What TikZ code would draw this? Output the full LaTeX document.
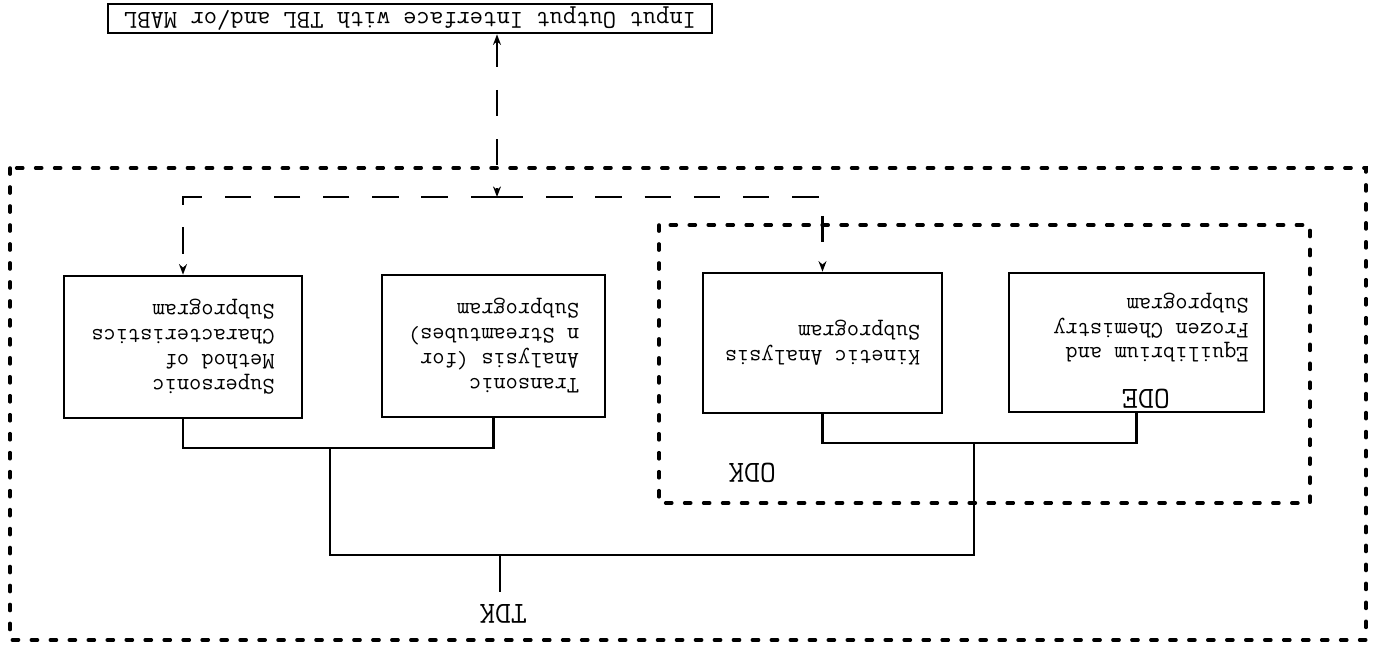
\documentclass[tikz,border=0pt]{standalone}
\usepackage{graphicx}
\usepackage{tikz}
\usetikzlibrary{arrows.meta}
\newcommand{\flipped}[1]{\rotatebox[origin=c]{180}{\begin{tabular}{@{}l@{}}#1\end{tabular}}}

\begin{document}
\begin{tikzpicture}[
    x=0.02cm, y=-0.02cm,
    >={Stealth[length=6pt,width=4.5pt]},
    subprog/.style={rectangle, draw, line width=1.5pt, inner sep=0pt, font=\ttfamily\fontsize{13.5}{14.2}\selectfont},
    iobox/.style={rectangle, draw, line width=1.5pt, minimum width=12.08cm, minimum height=0.58cm, inner sep=0pt, font=\ttfamily\fontsize{14.7}{16}\selectfont},
    tag/.style={inner sep=1pt, font=\ttfamily\fontsize{17.5}{20}\selectfont},
    wire/.style={line width=1.3pt},
    iolink/.style={line width=1.2pt, dash pattern=on 15pt off 13pt},
    dotbox/.style={line width=2pt, line cap=round, dash pattern=on 3.5pt off 7.3pt}
]
\useasboundingbox (0,0) rectangle (1377,648);

% Interface box at the top
\node[iobox] (io) at (410,18.5) {\flipped{Input Output Interface with TBL and/or MABL}};

% Subprogram boxes
\node[subprog, minimum width=4.76cm, minimum height=2.84cm] (super) at (183,347) {\flipped{Supersonic\\Method of\\Characteristics\\Subprogram}};
\node[subprog, minimum width=4.46cm, minimum height=2.84cm] (trans) at (493.5,346) {\flipped{Transonic\\Analysis (for\\n Streamtubes)\\Subprogram}};
\node[subprog, minimum width=4.78cm, minimum height=2.8cm] (kin) at (822.5,343) {\flipped{Kinetic Analysis\\Subprogram}};
\node[subprog, minimum width=5.1cm, minimum height=2.78cm] (equi) at (1136.5,342.5) {};
\node[subprog, draw=none] (equitxt) at (1151,328) {\flipped{Equilibrium and\\Frozen Chemistry\\Subprogram}};
\node[tag] (ode) at (1146,397) {\flipped{ODE}};

% Dotted frames
\draw[dotbox] (10,168) rectangle (1366,640);
\draw[dotbox] (659,225) rectangle (1310,503);
\node[tag] (odk) at (752,471) {\flipped{ODK}};
\node[tag] (tdk) at (503,612) {\flipped{TDK}};

% Junctions
\coordinate (iojoin) at (497,197);
\coordinate (lbar) at (330,448);
\coordinate (rbar) at (974,443);
\coordinate (tbar) at (500,555);

% Dashed links to the interface
\draw[iolink, <->] (iojoin |- io.south) -- (iojoin);
\draw[iolink, ->] (iojoin) -| (super.north);
\draw[iolink, ->] (iojoin) -| (kin.north);

% Solid connectors
\draw[wire] (super.south) |- (lbar) -| (trans.south);
\draw[wire] (kin.south) |- (rbar) -| (equi.south);
\draw[wire] (lbar) |- (tbar) -| (rbar);
\draw[wire] (tbar) -- (tbar |- tdk.north);

\end{tikzpicture}
\end{document}
